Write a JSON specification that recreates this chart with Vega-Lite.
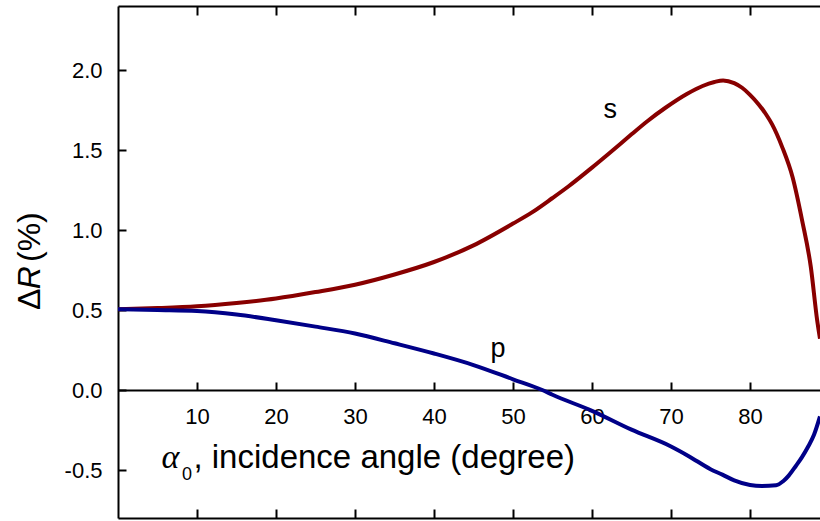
{
  "$schema": "https://vega.github.io/schema/vega-lite/v6.json",
  "width": 702,
  "height": 512,
  "autosize": {"type": "none"},
  "padding": {"left": 118, "top": 6, "right": 0, "bottom": 3},
  "background": "white",
  "view": {"stroke": null},
  "config": {
    "axis": {
      "domainColor": "black", "domainWidth": 2, "tickColor": "black", "tickWidth": 2,
      "labelFont": "Liberation Sans", "labelFontSize": 22, "labelColor": "black",
      "grid": false
    }
  },
  "datasets": {
    "curves": [
      {"angle": 0, "dR": 0.505, "pol": "s"},
      {"angle": 5, "dR": 0.512, "pol": "s"},
      {"angle": 10, "dR": 0.523, "pol": "s"},
      {"angle": 15, "dR": 0.544, "pol": "s"},
      {"angle": 20, "dR": 0.572, "pol": "s"},
      {"angle": 25, "dR": 0.612, "pol": "s"},
      {"angle": 30, "dR": 0.658, "pol": "s"},
      {"angle": 35, "dR": 0.722, "pol": "s"},
      {"angle": 40, "dR": 0.800, "pol": "s"},
      {"angle": 45, "dR": 0.904, "pol": "s"},
      {"angle": 50, "dR": 1.040, "pol": "s"},
      {"angle": 52.4, "dR": 1.110, "pol": "s"},
      {"angle": 55, "dR": 1.200, "pol": "s"},
      {"angle": 57, "dR": 1.272, "pol": "s"},
      {"angle": 60, "dR": 1.390, "pol": "s"},
      {"angle": 62, "dR": 1.472, "pol": "s"},
      {"angle": 65, "dR": 1.598, "pol": "s"},
      {"angle": 67, "dR": 1.680, "pol": "s"},
      {"angle": 69.3, "dR": 1.764, "pol": "s"},
      {"angle": 72, "dR": 1.850, "pol": "s"},
      {"angle": 74, "dR": 1.900, "pol": "s"},
      {"angle": 75.5, "dR": 1.925, "pol": "s"},
      {"angle": 76.6, "dR": 1.935, "pol": "s"},
      {"angle": 78, "dR": 1.918, "pol": "s"},
      {"angle": 79, "dR": 1.889, "pol": "s"},
      {"angle": 80, "dR": 1.845, "pol": "s"},
      {"angle": 81.1, "dR": 1.785, "pol": "s"},
      {"angle": 82, "dR": 1.725, "pol": "s"},
      {"angle": 82.8, "dR": 1.660, "pol": "s"},
      {"angle": 84.1, "dR": 1.515, "pol": "s"},
      {"angle": 85.4, "dR": 1.328, "pol": "s"},
      {"angle": 86.6, "dR": 1.059, "pol": "s"},
      {"angle": 87.7, "dR": 0.768, "pol": "s"},
      {"angle": 88.5, "dR": 0.436, "pol": "s"},
      {"angle": 88.86, "dR": 0.32, "pol": "s"},
      {"angle": 0, "dR": 0.505, "pol": "p"},
      {"angle": 5, "dR": 0.500, "pol": "p"},
      {"angle": 10, "dR": 0.494, "pol": "p"},
      {"angle": 15, "dR": 0.472, "pol": "p"},
      {"angle": 20, "dR": 0.436, "pol": "p"},
      {"angle": 25, "dR": 0.396, "pol": "p"},
      {"angle": 30, "dR": 0.353, "pol": "p"},
      {"angle": 35, "dR": 0.292, "pol": "p"},
      {"angle": 40, "dR": 0.228, "pol": "p"},
      {"angle": 45, "dR": 0.156, "pol": "p"},
      {"angle": 50, "dR": 0.067, "pol": "p"},
      {"angle": 53.7, "dR": 0.0, "pol": "p"},
      {"angle": 55, "dR": -0.030, "pol": "p"},
      {"angle": 60, "dR": -0.130, "pol": "p"},
      {"angle": 65, "dR": -0.248, "pol": "p"},
      {"angle": 70, "dR": -0.353, "pol": "p"},
      {"angle": 72.3, "dR": -0.415, "pol": "p"},
      {"angle": 75, "dR": -0.495, "pol": "p"},
      {"angle": 76.5, "dR": -0.529, "pol": "p"},
      {"angle": 78, "dR": -0.565, "pol": "p"},
      {"angle": 80, "dR": -0.594, "pol": "p"},
      {"angle": 81.5, "dR": -0.600, "pol": "p"},
      {"angle": 83.3, "dR": -0.596, "pol": "p"},
      {"angle": 84.2, "dR": -0.570, "pol": "p"},
      {"angle": 84.9, "dR": -0.535, "pol": "p"},
      {"angle": 85.8, "dR": -0.475, "pol": "p"},
      {"angle": 86.6, "dR": -0.418, "pol": "p"},
      {"angle": 87.4, "dR": -0.350, "pol": "p"},
      {"angle": 88.1, "dR": -0.280, "pol": "p"},
      {"angle": 88.86, "dR": -0.165, "pol": "p"}
    ],
    "labels": [
      {"angle": 62.3, "dR": 1.70, "label": "s"},
      {"angle": 48.1, "dR": 0.205, "label": "p"}
    ]
  },
  "layer": [
    {
      "data": {"name": "curves"},
      "mark": {"type": "line", "strokeWidth": 4, "interpolate": "monotone", "clip": true},
      "encoding": {
        "x": {"field": "angle", "type": "quantitative",
              "scale": {"domain": [0, 88.86], "nice": false, "zero": false},
              "axis": {"orient": "bottom", "values": [10, 20, 30, 40, 50, 60, 70, 80], "tickSize": -9, "labels": false, "title": null}},
        "y": {"field": "dR", "type": "quantitative",
              "scale": {"domain": [-0.8, 2.4], "nice": false, "zero": false},
              "axis": {"orient": "left", "values": [-0.5, 0, 0.5, 1, 1.5, 2], "format": ".1f",
                       "labelExpr": "replace(datum.label, '\u2212', '-')",
                       "tickSize": -8, "labelPadding": 24, "labelFlush": false, "title": null}},
        "color": {"field": "pol", "type": "nominal",
                  "scale": {"domain": ["s", "p"], "range": ["#880000", "#000088"]}, "legend": null},
        "detail": {"field": "pol"}
      }
    },
    {
      "data": {"name": "labels"},
      "mark": {"type": "text", "font": "Liberation Sans", "fontSize": 27, "color": "black", "baseline": "alphabetic", "align": "center"},
      "encoding": {
        "x": {"field": "angle", "type": "quantitative",
              "axis": {"orient": "top", "values": [10, 20, 30, 40, 50, 60, 70, 80], "tickSize": -9, "labels": false, "title": null}},
        "y": {"field": "dR", "type": "quantitative"},
        "text": {"field": "label"}
      }
    },
    {
      "data": {"values": [{}]},
      "mark": {"type": "text", "font": "Liberation Serif", "fontStyle": "italic", "fontSize": 34, "color": "black", "baseline": "alphabetic", "align": "left", "text": "α"},
      "encoding": {
        "x": {"datum": 5.5, "type": "quantitative",
              "axis": {"orient": "bottom", "offset": -128, "values": [10, 20, 30, 40, 50, 60, 70, 80],
                       "tickSize": -8, "labelPadding": 24, "labelFlush": false, "title": null}},
        "y": {"datum": -0.4875, "type": "quantitative"}
      }
    },
    {
      "data": {"values": [{}]},
      "mark": {"type": "text", "font": "Liberation Sans", "fontSize": 18, "color": "black", "baseline": "alphabetic", "align": "left", "text": "0"},
      "encoding": {
        "x": {"datum": 8.1, "type": "quantitative", "axis": null},
        "y": {"datum": -0.56, "type": "quantitative"}
      }
    },
    {
      "data": {"values": [{}]},
      "mark": {"type": "text", "font": "Liberation Sans", "fontSize": 33, "color": "black", "baseline": "alphabetic", "align": "left", "text": ", incidence angle (degree)"},
      "encoding": {
        "x": {"datum": 9.55, "type": "quantitative", "axis": null},
        "y": {"datum": -0.49, "type": "quantitative"}
      }
    },
    {
      "data": {"values": [{}]},
      "mark": {"type": "text", "font": "Liberation Sans", "fontSize": 32, "color": "black", "baseline": "alphabetic", "align": "left", "angle": 270, "text": "Δ"},
      "encoding": {
        "x": {"datum": -9.87, "type": "quantitative", "axis": null},
        "y": {"datum": 0.5, "type": "quantitative"}
      }
    },
    {
      "data": {"values": [{}]},
      "mark": {"type": "text", "font": "Liberation Sans", "fontStyle": "italic", "fontSize": 32, "color": "black", "baseline": "alphabetic", "align": "left", "angle": 270, "text": "R"},
      "encoding": {
        "x": {"datum": -9.87, "type": "quantitative", "axis": null},
        "y": {"datum": 0.63, "type": "quantitative"}
      }
    },
    {
      "data": {"values": [{}]},
      "mark": {"type": "text", "font": "Liberation Sans", "fontSize": 32, "color": "black", "baseline": "alphabetic", "align": "left", "angle": 270, "text": "(%)"},
      "encoding": {
        "x": {"datum": -9.87, "type": "quantitative", "axis": null},
        "y": {"datum": 0.80, "type": "quantitative"}
      }
    }
  ],
  "resolve": {"axis": {"x": "independent"}}
}
